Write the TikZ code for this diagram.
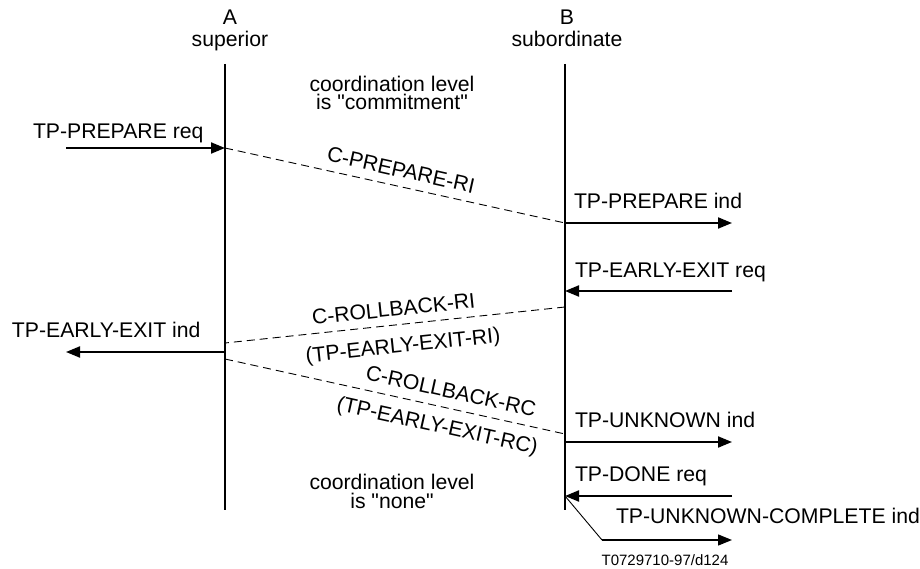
\documentclass[tikz,border=0pt]{standalone}
\usepackage{fontspec}
\setmainfont{Liberation Sans}[Ligatures=TeXOff]
\usetikzlibrary{arrows.meta}
\begin{document}
\begin{tikzpicture}[x=1pt,y=-1pt,
  lbl/.style={font=\fontsize{21.2}{18}\selectfont, inner sep=0pt, outer sep=0pt},
  bw/.style={lbl, anchor=base west},
  bc/.style={lbl, anchor=base},
  small/.style={font=\fontsize{15}{15}\selectfont, inner sep=0pt, anchor=base},
  life/.style={line width=2pt},
  msg/.style={line width=2pt, -{Triangle[length=14pt,width=11pt]}},
  thinmsg/.style={line width=1.3pt, -{Triangle[length=14pt,width=11pt]}},
  pdu/.style={line width=0.9pt, dash pattern=on 8pt off 5pt}
]
\useasboundingbox (0,0) rectangle (920,569);

% headers
\node[bc] (hA) at (230,25) {A};
\node[bc] (hAs) at (230,46.5) {superior};
\node[bc] (hB) at (567,25) {B};
\node[bc] (hBs) at (567,46.5) {subordinate};

% lifelines
\coordinate (Atop) at (225,64);
\coordinate (Abot) at (225,510);
\coordinate (Btop) at (565,64);
\coordinate (Bbot) at (565,510);
\draw[life] (Atop) -- (Abot);
\draw[life] (Btop) -- (Bbot);

% coordination texts
\node[bc] (c1) at (392,92) {coordination level};
\node[bc] (c2) at (392,110) {is "commitment"};
\node[bc] (c3) at (392,489) {coordination level};
\node[bc] (c4) at (392,508) {is "none"};

% points
\coordinate (p1s) at (66,148);
\coordinate (A1) at (225,148);
\coordinate (B1) at (565,223);
\coordinate (p2e) at (732,223);
\coordinate (p3s) at (732,291);
\coordinate (B3) at (565,291);
\coordinate (B4) at (565,307);
\coordinate (A4) at (225,343);
\coordinate (A5) at (225,352);
\coordinate (p5e) at (66,352);
\coordinate (A6) at (225,359);
\coordinate (B6) at (565,434);
\coordinate (B7) at (565,442);
\coordinate (p7e) at (732,442);
\coordinate (p8s) at (732,496);
\coordinate (B8) at (565,496);
\coordinate (k9) at (602,540);
\coordinate (p9e) at (732,540);

% primitives
\draw[msg] (p1s) -- (A1);
\node[bw] (t1) at (33,138.5) {TP-PREPARE req};

\draw[pdu] (A1) -- (B1);
\node[lbl, rotate=-12.55] (l1) at (401,170) {C-PREPARE-RI};

\draw[msg] (B1) -- (p2e);
\node[bw] (t2) at (574,208.5) {TP-PREPARE ind};

\draw[msg] (p3s) -- (B3);
\node[bw] (t3) at (575,277) {TP-EARLY-EXIT req};

\draw[pdu] (B4) -- (A4);
\node[lbl, rotate=6.04] (l2) at (393.5,309) {C-ROLLBACK-RI};
\node[lbl, rotate=6.04] (l3) at (403,347) {(TP-EARLY-EXIT-RI)};

\draw[msg] (A5) -- (p5e);
\node[bw] (t4) at (12,337) {TP-EARLY-EXIT ind};

\draw[pdu] (A6) -- (B6);
\node[lbl, rotate=-12.44] (l4) at (451,391) {C-ROLLBACK-RC};
\node[lbl, rotate=-12.44] (l5) at (437,427) {(TP-EARLY-EXIT-RC)};

\draw[msg] (B7) -- (p7e);
\node[bw] (t5) at (575,427) {TP-UNKNOWN ind};

\draw[msg] (p8s) -- (B8);
\node[bw] (t6) at (575,481) {TP-DONE req};

\draw[line width=0.9pt] (B8) -- (k9);
\draw[thinmsg] (k9) -- (p9e);
\node[bw] (t7) at (616,523) {TP-UNKNOWN-COMPLETE ind};

\node[small] (ref) at (665,565) {T0729710-97/d124};
\end{tikzpicture}
\end{document}
